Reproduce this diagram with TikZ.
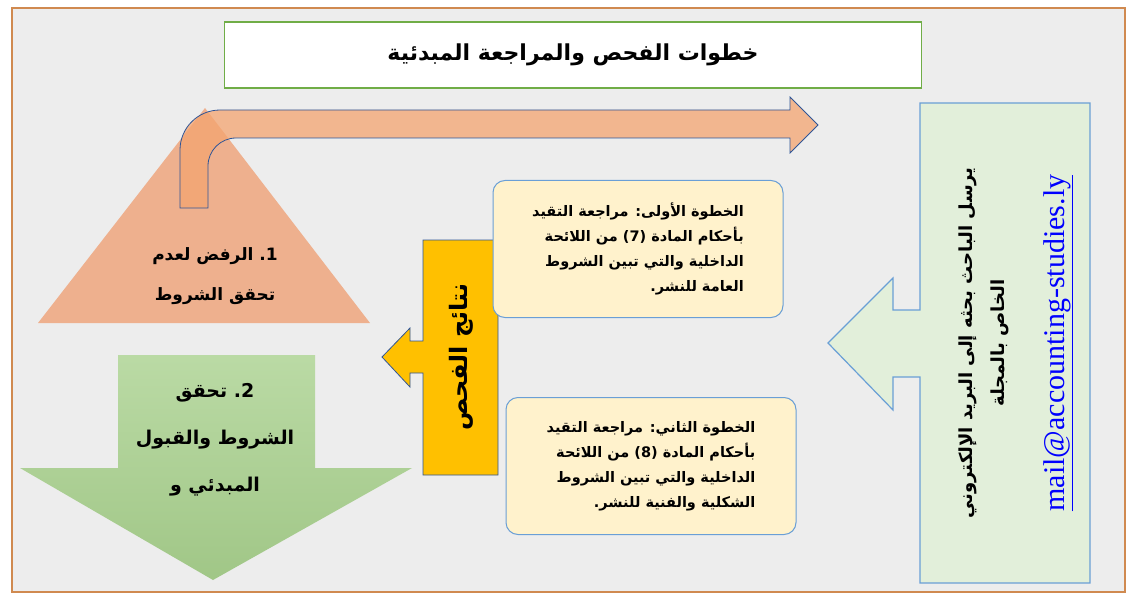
\documentclass[tikz,border=0pt]{standalone}
\usepackage{fontspec}
\newfontfamily\arabicfont[Script=Arabic]{DejaVu Sans}
\newfontfamily\mailfont{Liberation Serif}
\TeXXeTstate=1
\usetikzlibrary{positioning}
\definecolor{frameorange}{HTML}{D08A50}
\definecolor{bggray}{HTML}{EDEDED}
\definecolor{titlegreen}{HTML}{70AD47}
\definecolor{peach}{HTML}{EEB08E}
\definecolor{bentorange}{HTML}{F4A470}
\definecolor{darkblue}{HTML}{2F5597}
\definecolor{lineblue}{HTML}{6A9FD6}
\definecolor{paleyellow}{HTML}{FFF2CC}
\definecolor{gold}{HTML}{FFC000}
\definecolor{palegreen}{HTML}{E2EFDA}
\definecolor{leafgreen}{HTML}{A9D18E}

\tikzset{
  artext/.style={font=\arabicfont\bfseries, text=black},
  stepbox/.style={draw=lineblue, line width=1pt, fill=paleyellow, rounded corners=12pt,
    minimum width=290pt, minimum height=137pt, align=right, artext, font=\arabicfont\bfseries\fontsize{14.5}{25}\selectfont},
}

\begin{document}
\begin{tikzpicture}[x=1pt, y=-1pt]
        \useasboundingbox (0,0) rectangle (1133,599);
        % Frame
        \draw[frameorange, line width=1.5pt, fill=bggray] (12,8) rectangle (1125,592);

        % Title
        \node[draw=titlegreen, line width=1.2pt, fill=white, minimum width=697pt, minimum height=66pt,
          artext, font=\arabicfont\bfseries\fontsize{22}{24}\selectfont] (title) at (573,55)
          {\beginR خطوات الفحص والمراجعة المبدئية\endR};

        % Rejection triangle and bent arrow
        \fill[peach] (205,108) -- (370,323) -- (38,323) -- cycle;
        \draw[darkblue, line width=0.8pt, fill=bentorange, fill opacity=0.75]
          (180,208) -- (180,150) arc[start angle=180, end angle=270, radius=40] -- (790,110)
          -- (790,97) -- (818,125) -- (790,153) -- (790,138) -- (236,138)
          arc[start angle=270, end angle=180, radius=28] -- (208,208) -- cycle;
        \node[artext, align=center, font=\arabicfont\bfseries\fontsize{17}{40}\selectfont] (reject) at (215,276)
          {\beginR\beginL 1.\endL\ الرفض لعدم\endR\\\beginR تحقق الشروط\endR};

        % Acceptance arrow
        \shade[top color=leafgreen!80!white, bottom color=leafgreen!95!black]
          (118,355) -- (315,355) -- (315,468) -- (412,468) -- (213,580) -- (20,468) -- (118,468) -- cycle;
        \node[artext, align=center, font=\arabicfont\bfseries\fontsize{19}{47}\selectfont] (accept) at (215,440)
          {\beginR\beginL 2.\endL\ تحقق\endR\\\beginR الشروط والقبول\endR\\\beginR المبدئي و\endR};

        % Results arrow
        \draw[darkblue, line width=0.8pt, fill=gold]
          (423,240) -- (498,240) -- (498,475) -- (423,475) -- (423,373) -- (410,373) -- (410,387)
          -- (382,357) -- (410,328) -- (410,341) -- (423,341) -- cycle;
        \node[artext, rotate=90, font=\arabicfont\bfseries\fontsize{24}{26}\selectfont] (results) at (461,357)
          {\beginR نتائج الفحص\endR};

        % Steps
        \node[stepbox] (step1) at (638,249)
          {\beginR الخطوة الأولى: مراجعة التقيد\endR\\
           \beginR بأحكام المادة \beginL(7)\endL{} من اللائحة\endR\\
           \beginR الداخلية والتي تبين الشروط\endR\\
           \beginR العامة للنشر.\endR};
        \node[stepbox] (step2) at (651,466)
          {\beginR الخطوة الثاني: مراجعة التقيد\endR\\
           \beginR بأحكام المادة \beginL(8)\endL{} من اللائحة\endR\\
           \beginR الداخلية والتي تبين الشروط\endR\\
           \beginR الشكلية والفنية للنشر.\endR};

        % Submission arrow
        \draw[lineblue, line width=1.2pt, fill=palegreen]
          (920,103) -- (1090,103) -- (1090,583) -- (920,583) -- (920,377) -- (893,377) -- (893,410)
          -- (828,343) -- (893,278) -- (893,310) -- (920,310) -- cycle;
        \node[artext, rotate=90, align=center, font=\arabicfont\bfseries\fontsize{18}{32}\selectfont] (submit) at (984,343)
          {\beginR يرسل الباحث بحثه إلى البريد الإلكتروني\endR\\\beginR الخاص بالمجلة\endR};
        \node[rotate=90, text=blue, font=\mailfont\fontsize{30}{32}\selectfont] (mail) at (1058,343)
          {\underline{mail@accounting-studies.ly}};
    \end{tikzpicture}
\end{document}
